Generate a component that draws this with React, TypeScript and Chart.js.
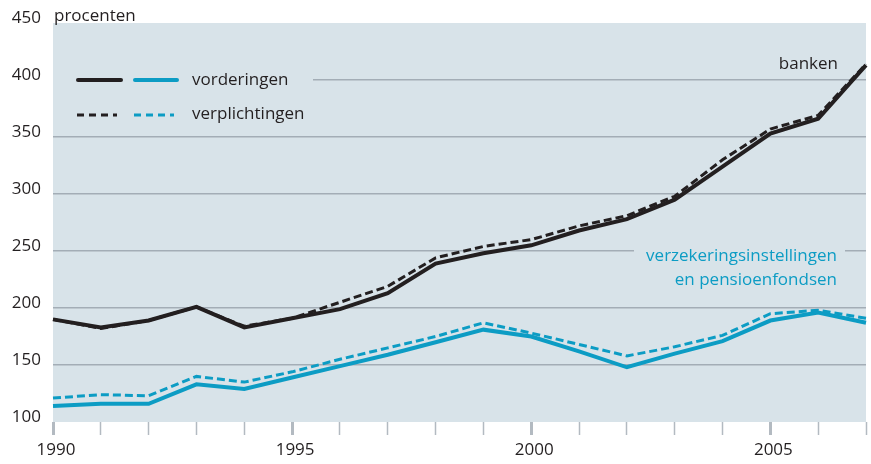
import React, { useEffect, useRef } from "react";
import { Chart, registerables } from "chart.js";

Chart.register(...registerables);

const years = ["1990","1991","1992","1993","1994","1995","1996","1997","1998","1999","2000","2001","2002","2003","2004","2005","2006","2007"];
const bankenVorderingen = [190,183,189,201,183,191,199,213,239,248,255,268,278,295,324,353,366,413];
const bankenVerplichtingen = [190,182,189,201,184,191,205,219,244,254,260,272,281,298,330,357,369,414];
const pensioenVorderingen = [114,116,116,133,129,139,149,159,170,181,175,162,148,160,171,189,196,187];
const pensioenVerplichtingen = [121,124,123,140,135,144,155,165,175,187,178,168,158,166,176,195,198,191];
const yTicks = [100,150,200,250,300,350,400,450];

const BLACK = "#231f20";
const BLUE = "#0c9cc4";
const BG = "#d8e3e9";
const GRID = "#a3adb6";
const FONT = "'Open Sans', sans-serif";

const decorPlugin = {
  id: "decor",
  beforeDraw(chart: any) {
    const { ctx, chartArea: a } = chart;
    ctx.save();
    ctx.fillStyle = BG;
    ctx.fillRect(a.left, a.top, a.right - a.left, a.bottom - a.top);
    ctx.restore();
  },
  beforeDatasetsDraw(chart: any) {
    const { ctx, chartArea: a } = chart;
    ctx.save();
    ctx.fillStyle = BG;
    ctx.fillRect(a.left, 60, 313 - a.left, 70);
    ctx.fillRect(634, 240, 211, 52);
    ctx.restore();
  },
  afterDatasetsDraw(chart: any) {
    const { ctx } = chart;
    ctx.save();
    ctx.font = `17px ${FONT}`;
    ctx.textBaseline = "middle";
    ctx.fillStyle = BLACK;
    ctx.textAlign = "left";
    ctx.fillText("procenten", 54, 16);
    ctx.fillText("vorderingen", 192, 80);
    ctx.fillText("verplichtingen", 192, 114);
    ctx.textAlign = "right";
    ctx.fillText("banken", 838, 64);
    ctx.fillStyle = BLUE;
    ctx.fillText("verzekeringsinstellingen", 837, 256);
    ctx.fillText("en pensioenfondsen", 837, 280);

    ctx.lineCap = "round";
    ctx.lineWidth = 4;
    ctx.strokeStyle = BLACK;
    ctx.beginPath(); ctx.moveTo(78, 80); ctx.lineTo(121, 80); ctx.stroke();
    ctx.strokeStyle = BLUE;
    ctx.beginPath(); ctx.moveTo(135, 80); ctx.lineTo(177, 80); ctx.stroke();
    ctx.lineCap = "butt";
    ctx.lineWidth = 3;
    ctx.setLineDash([7, 5]);
    ctx.strokeStyle = BLACK;
    ctx.beginPath(); ctx.moveTo(77, 115); ctx.lineTo(117, 115); ctx.stroke();
    ctx.strokeStyle = BLUE;
    ctx.beginPath(); ctx.moveTo(134, 115); ctx.lineTo(174, 115); ctx.stroke();
    ctx.restore();
  },
};

export default function App() {
  const ref = useRef<HTMLCanvasElement | null>(null);
  useEffect(() => {
    document.body.style.margin = "0";
    const canvas = ref.current;
    if (!canvas) return;
    const chart = new Chart(canvas, {
      type: "line",
      data: {
        labels: years,
        datasets: [
          { label: "banken verplichtingen", data: bankenVerplichtingen, borderColor: BLACK, borderWidth: 3, borderDash: [8, 4], pointRadius: 0, tension: 0 },
          { label: "banken vorderingen", data: bankenVorderingen, borderColor: BLACK, borderWidth: 4, pointRadius: 0, tension: 0 },
          { label: "verzekeringsinstellingen en pensioenfondsen verplichtingen", data: pensioenVerplichtingen, borderColor: BLUE, borderWidth: 3, borderDash: [8, 4], pointRadius: 0, tension: 0 },
          { label: "verzekeringsinstellingen en pensioenfondsen vorderingen", data: pensioenVorderingen, borderColor: BLUE, borderWidth: 4, pointRadius: 0, tension: 0 },
        ],
      },
      options: {
        responsive: false,
        animation: false,
        layout: { padding: { top: 23, right: 4, left: 0, bottom: 0 } },
        plugins: { legend: { display: false }, tooltip: { enabled: false } },
        scales: {
          x: {
            offset: false,
            border: { display: false },
            grid: {
              offset: false,
              drawOnChartArea: false,
              drawTicks: true,
              tickLength: 13,
              tickColor: "#b3bac1",
              tickWidth: (c: any) => (c.index % 5 === 0 ? 3 : 1.5),
            } as any,
            ticks: {
              autoSkip: false,
              maxRotation: 0,
              padding: 5,
              labelOffset: 3,
              color: BLACK,
              font: { family: FONT, size: 17 },
              callback: (_v: any, i: number) => (i % 5 === 0 ? years[i] : ""),
            },
            afterFit: (s: any) => { s.height = 42; },
          },
          y: {
            min: yTicks[0],
            max: yTicks[yTicks.length - 1],
            border: { display: false },
            afterBuildTicks: (s: any) => { s.ticks = yTicks.map((v) => ({ value: v })); },
            grid: {
              drawTicks: false,
              lineWidth: 1.5,
              color: (c: any) => (c.tick && (c.tick.value === 100 || c.tick.value === 450) ? "rgba(0,0,0,0)" : GRID),
            },
            ticks: {
              padding: 12,
              labelOffset: -5,
              color: BLACK,
              font: { family: FONT, size: 17 },
            },
            afterFit: (s: any) => { s.width = 53; },
          },
        },
      },
      plugins: [decorPlugin],
    });
    return () => chart.destroy();
  }, []);
  return (
    <div style={{ width: 871, height: 464 }}>
      <canvas ref={ref} width={871} height={464} style={{ display: "block" }} />
    </div>
  );
}
